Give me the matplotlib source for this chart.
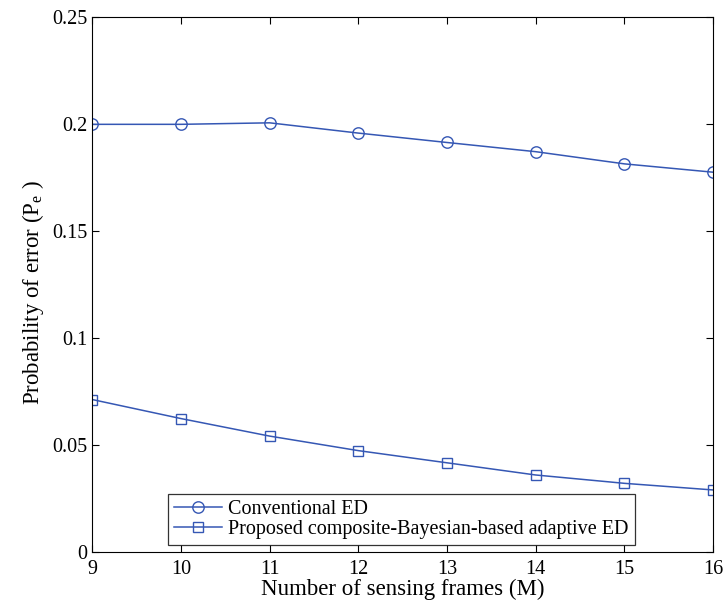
import matplotlib.pyplot as plt

# Data
frames = [9, 10, 11, 12, 13, 14, 15, 16]
pe_conventional = [0.2000, 0.2000, 0.2007, 0.1959, 0.1915, 0.1872, 0.1815, 0.1776]
pe_proposed = [0.0712, 0.0623, 0.0541, 0.0473, 0.0416, 0.0359, 0.0320, 0.0289]
y_ticks = [0, 0.05, 0.1, 0.15, 0.2, 0.25]
y_tick_labels = ["0", "0.05", "0.1", "0.15", "0.2", "0.25"]


def main() -> None:
    plt.rcParams["font.family"] = ["Liberation Serif", "DejaVu Serif"]
    plt.rcParams["mathtext.fontset"] = "custom"
    plt.rcParams["mathtext.rm"] = "Liberation Serif"

    line_color = "#3557b4"
    fig = plt.figure(figsize=(7.24, 6.05), dpi=100)
    ax = fig.add_axes([0.1275, 0.0881, 0.8573, 0.8830])

    ax.plot(frames, pe_conventional, color=line_color, lw=1.1, marker="o",
            ms=8.2, mfc="none", mec=line_color, mew=1.0, label="Conventional ED")
    ax.plot(frames, pe_proposed, color=line_color, lw=1.1, marker="s",
            ms=6.5, mfc="none", mec=line_color, mew=1.0,
            label="Proposed composite-Bayesian-based adaptive ED")

    # Axis formatting (MATLAB look)
    ax.set_xlim(9, 16)
    ax.set_ylim(0, 0.25)
    ax.set_xticks(frames)
    ax.set_yticks(y_ticks)
    ax.set_yticklabels(y_tick_labels)
    ax.tick_params(direction="in", top=True, right=True, labelsize=14.5,
                   length=5, width=0.8)
    ax.tick_params(axis="x", pad=6)
    for spine in ax.spines.values():
        spine.set_linewidth(0.8)

    ax.set_xlabel("Number of sensing frames (M)", fontsize=16.5, labelpad=0)
    ax.set_ylabel(r"Probability of error (P$_\mathregular{e}$ )", fontsize=16.5)
    ax.yaxis.set_label_coords(-0.074, 0.486)

    leg = ax.legend(loc="lower left", bbox_to_anchor=(0.1215, 0.0125),
                    fontsize=14.5, frameon=True, fancybox=False,
                    edgecolor="black", borderpad=0.3, labelspacing=0.05,
                    handlelength=2.4, handletextpad=0.3, borderaxespad=0)
    leg.get_frame().set_linewidth(0.9)

    fig.savefig("out.png", dpi=100)


if __name__ == "__main__":
    main()
